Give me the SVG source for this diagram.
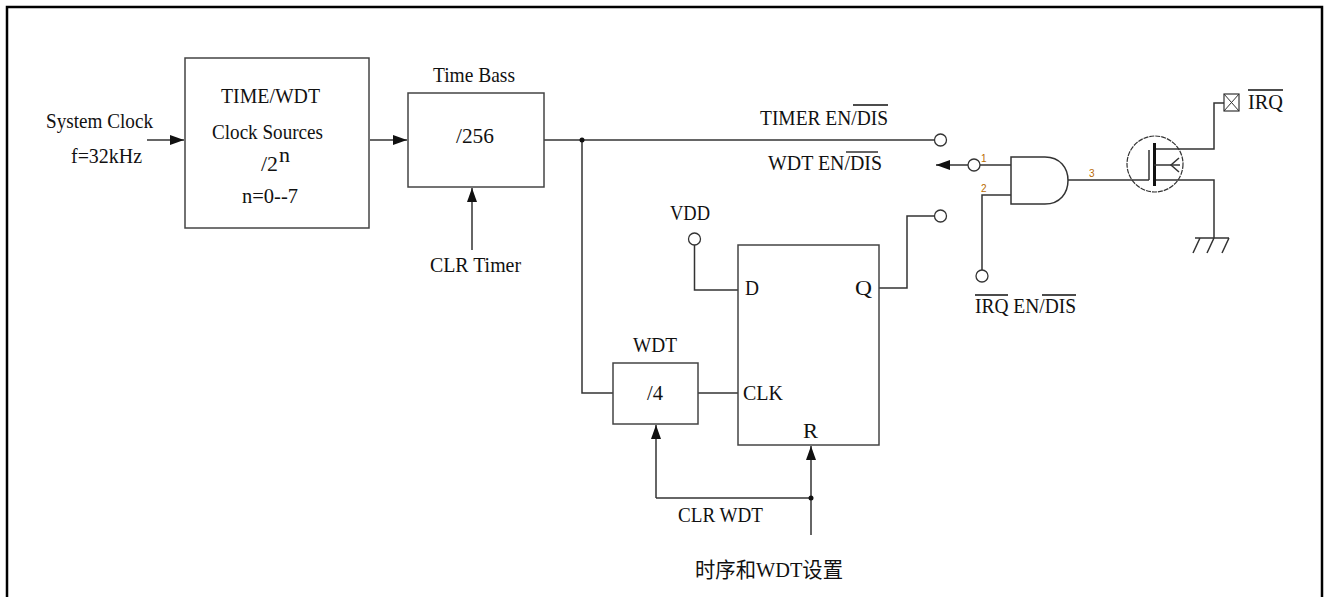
<svg xmlns="http://www.w3.org/2000/svg" width="1324" height="597" viewBox="0 0 1324 597">
<style>
.t{font-family:"Liberation Serif","Noto Sans CJK SC",serif;font-size:21px;fill:#111}
.pin{font-family:"Liberation Sans",sans-serif;font-size:10px;fill:#b86a00}
.box{fill:#fff;stroke:#444;stroke-width:1.5}
.w{fill:none;stroke:#333;stroke-width:1.5}
.ol{stroke:#111;stroke-width:1.3}
.term{fill:#fff;stroke:#333;stroke-width:1.3}
</style>
<defs>
<marker id="ah" viewBox="0 0 14 10" refX="14" refY="5" markerWidth="14" markerHeight="10" markerUnits="userSpaceOnUse" orient="auto">
<path d="M0,0 L14,5 L0,10 z" fill="#111"/>
</marker>
</defs>
<rect x="0" y="0" width="1324" height="597" fill="#fff"/>
<path d="M7,597 V7 H1322 V597" fill="none" stroke="#000" stroke-width="2.5"/>

<g id="connectors">
<path class="w" d="M147,140 H184" marker-end="url(#ah)"/>
<path class="w" d="M370,140 H407" marker-end="url(#ah)"/>
<path class="w" d="M472,250 V188" marker-end="url(#ah)"/>
<path class="w" d="M544,140 H934.5"/>
<path class="w" d="M582,140 V393 H613"/>
<path class="w" d="M698,393 H738"/>
<path class="w" d="M694.5,245 V290 H738"/>
<path class="w" d="M879,288 H907 V216 H934.5"/>
<path class="w" d="M656,498 V425" marker-end="url(#ah)"/>
<path class="w" d="M656,498 H811"/>
<path class="w" d="M811,535 V446" marker-end="url(#ah)"/>
<circle cx="582" cy="140" r="2.5" fill="#111"/>
<circle cx="811" cy="498" r="2.5" fill="#111"/>
<path class="w" d="M968,165 H936" marker-end="url(#ah)"/>
<path class="w" d="M980,165 H1011"/>
<path class="w" d="M1011,195 H982 V270"/>
<path class="w" d="M1068,180 H1149"/>
<path class="w" d="M1154,149 H1214 V103 H1224"/>
<path class="w" d="M1154,180 H1214 V238"/>
</g>

<g id="system-clock">
<text class="t" x="46" y="128" textLength="107" lengthAdjust="spacingAndGlyphs">System Clock</text>
<text class="t" x="71" y="163" textLength="71" lengthAdjust="spacingAndGlyphs">f=32kHz</text>
</g>

<g id="clock-sources">
<rect class="box" x="185" y="58" width="184" height="170"/>
<text class="t" x="221" y="103" textLength="99" lengthAdjust="spacingAndGlyphs">TIME/WDT</text>
<text class="t" x="212" y="139" textLength="111" lengthAdjust="spacingAndGlyphs">Clock Sources</text>
<text class="t" x="261" y="171" textLength="17" lengthAdjust="spacingAndGlyphs">/2</text>
<text class="t" x="279" y="162" font-size="16" textLength="11" lengthAdjust="spacingAndGlyphs">n</text>
<text class="t" x="242" y="203" textLength="56" lengthAdjust="spacingAndGlyphs">n=0--7</text>
</g>

<g id="time-base">
<text class="t" x="433" y="82" textLength="82" lengthAdjust="spacingAndGlyphs">Time Bass</text>
<rect class="box" x="408" y="93" width="136" height="94"/>
<text class="t" x="456" y="143" textLength="38" lengthAdjust="spacingAndGlyphs">/256</text>
<text class="t" x="430" y="272" textLength="91" lengthAdjust="spacingAndGlyphs">CLR Timer</text>
</g>

<g id="timer-en">
<text class="t" x="760" y="125" textLength="128" lengthAdjust="spacingAndGlyphs">TIMER EN/DIS</text>
<line class="ol" x1="853" y1="105" x2="888" y2="105"/>
<circle class="term" cx="940.5" cy="140" r="6"/>
</g>

<g id="wdt-en">
<text class="t" x="768" y="170" textLength="114" lengthAdjust="spacingAndGlyphs">WDT EN/DIS</text>
<line class="ol" x1="846" y1="152" x2="878" y2="152"/>
<circle class="term" cx="974" cy="165" r="6"/>
<text class="pin" x="981" y="162">1</text>
</g>

<g id="vdd">
<text class="t" x="670" y="220" textLength="40" lengthAdjust="spacingAndGlyphs">VDD</text>
<circle class="term" cx="694.5" cy="239" r="6"/>
</g>

<g id="dff">
<rect class="box" x="738" y="245" width="141" height="200"/>
<text class="t" x="745" y="295" textLength="14" lengthAdjust="spacingAndGlyphs">D</text>
<text class="t" x="855" y="295" textLength="17" lengthAdjust="spacingAndGlyphs">Q</text>
<text class="t" x="743" y="400" textLength="40" lengthAdjust="spacingAndGlyphs">CLK</text>
<text class="t" x="803" y="438" textLength="15" lengthAdjust="spacingAndGlyphs">R</text>
</g>

<g id="q-out">
<circle class="term" cx="940.5" cy="216" r="6"/>
</g>

<g id="wdt">
<text class="t" x="633" y="352" textLength="44" lengthAdjust="spacingAndGlyphs">WDT</text>
<rect class="box" x="613" y="363" width="85" height="61"/>
<text class="t" x="647" y="400" textLength="16" lengthAdjust="spacingAndGlyphs">/4</text>
</g>

<g id="clr-wdt">
<text class="t" x="678" y="522" textLength="85" lengthAdjust="spacingAndGlyphs">CLR WDT</text>
<text class="t" x="695" y="577" textLength="148" lengthAdjust="spacingAndGlyphs">时序和WDT设置</text>
</g>

<g id="and-gate">
<path class="w" d="M1011,157 H1045 C1060,157 1068,168 1068,180.5 C1068,193 1060,204 1045,204 H1011 Z" fill="#fff"/>
<text class="pin" x="981" y="192">2</text>
<text class="pin" x="1089" y="177">3</text>
</g>

<g id="irq-en">
<circle class="term" cx="982" cy="276" r="6"/>
<text class="t" x="975" y="313" textLength="101" lengthAdjust="spacingAndGlyphs">IRQ EN/DIS</text>
<line class="ol" x1="975" y1="295" x2="1008" y2="295"/>
<line class="ol" x1="1042" y1="295" x2="1076" y2="295"/>
</g>

<g id="mosfet">
<circle cx="1155" cy="164" r="28" fill="none" stroke="#333" stroke-width="1.2" stroke-dasharray="5,1"/>
<line x1="1149" y1="150" x2="1149" y2="180" stroke="#333" stroke-width="1.5"/>
<line x1="1154.5" y1="143" x2="1154.5" y2="186" stroke="#111" stroke-width="3"/>
<path class="w" d="M1154,165 H1180"/>
<path class="w" d="M1179,158 L1171,165 L1179,172"/>
</g>

<g id="ground">
<path class="w" d="M1195,238 H1229 M1200,238 L1193,253 M1214,238 L1207,253 M1229,238 L1222,253"/>
</g>

<g id="irq-out">
<rect x="1224" y="94" width="15" height="17" fill="#fff" stroke="#333" stroke-width="1.2"/>
<path d="M1224,94 L1239,111 M1239,94 L1224,111" stroke="#333" stroke-width="1"/>
<text class="t" x="1248" y="109" textLength="35" lengthAdjust="spacingAndGlyphs">IRQ</text>
<line class="ol" x1="1248" y1="90" x2="1283" y2="90"/>
</g>
</svg>
